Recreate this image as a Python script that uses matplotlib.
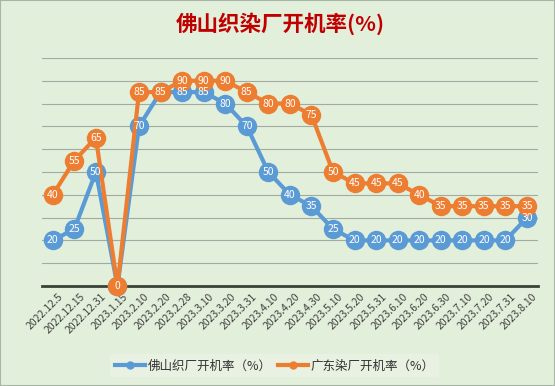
import matplotlib.pyplot as plt
from matplotlib.lines import Line2D
from matplotlib.patches import Rectangle
from matplotlib.transforms import ScaledTranslation

plt.rcParams['font.family'] = ['Noto Sans CJK SC', 'DejaVu Sans']

dates = ['2022.12.5', '2022.12.15', '2022.12.31', '2023.1.15', '2023.2.10',
         '2023.2.20', '2023.2.28', '2023.3.10', '2023.3.20', '2023.3.31',
         '2023.4.10', '2023.4.20', '2023.4.30', '2023.5.10', '2023.5.20',
         '2023.5.31', '2023.6.10', '2023.6.20', '2023.6.30', '2023.7.10',
         '2023.7.20', '2023.7.31', '2023.8.10']
foshan = [20, 25, 50, 0, 70, 85, 85, 85, 80, 70, 50, 40, 35, 25, 20,
          20, 20, 20, 20, 20, 20, 20, 30]
guangdong = [40, 55, 65, 0, 85, 85, 90, 90, 90, 85, 80, 80, 75, 50, 45,
             45, 45, 40, 35, 35, 35, 35, 35]
series_names = ['佛山织厂开机率（%）', '广东染厂开机率（%）']
title = '佛山织染厂开机率(%)'

BLUE = '#5B9BD5'
ORANGE = '#ED7D31'
BG = '#E2EFDA'

fig = plt.figure(figsize=(5.55, 3.86), dpi=100, facecolor=BG)
fig.patches.append(Rectangle((0, 0), 1, 1, transform=fig.transFigure,
                             fill=False, edgecolor='#A9B4A9', linewidth=1.5))
ax = fig.add_axes([0.0757, 0.259, 0.8933, 0.591])
ax.set_facecolor(BG)

x = list(range(len(dates)))
for vals, color, z in [(foshan, BLUE, 3), (guangdong, ORANGE, 4)]:
    ax.plot(x, vals, color=color, linewidth=3, marker='o', markersize=14,
            markeredgewidth=0, zorder=z, clip_on=False)

# labels sit above every series, like Excel data labels;
# where both series share a value only one label shows
for xi, (b, o) in enumerate(zip(foshan, guangdong)):
    if b != o:
        ax.text(xi, b, str(b), color='white', fontsize=7.5, ha='center',
                va='center', zorder=10)
    ax.text(xi, o, str(o), color='white', fontsize=7.5, ha='center',
            va='center', zorder=10)

ax.set_xlim(-0.5, len(dates) - 0.5)
ax.set_ylim(0, 100)
ax.set_yticks(range(0, 101, 10))
ax.yaxis.grid(True, color='#A3AAA3', linewidth=0.8)
ax.set_axisbelow(True)
ax.tick_params(axis='y', left=False, labelleft=False)
ax.tick_params(axis='x', length=0, pad=4, labelsize=7.5, labelcolor='#404040')
ax.set_xticks(x)
ax.set_xticklabels(dates, rotation=45, ha='right', rotation_mode='anchor')
shift = ScaledTranslation(5 / 100, 0, fig.dpi_scale_trans)
for lbl in ax.get_xticklabels():
    lbl.set_transform(lbl.get_transform() + shift)
for s in ['top', 'right', 'left']:
    ax.spines[s].set_visible(False)
ax.spines['bottom'].set_color('#3A4237')
ax.spines['bottom'].set_linewidth(2)
ax.spines['bottom'].set_zorder(2)

fig.text(0.505, 0.938, title, color='#C00000', fontsize=15.5,
         fontweight='bold', ha='center', va='center')

handles = [Line2D([], [], color=BLUE, linewidth=3, marker='o', markersize=5),
           Line2D([], [], color=ORANGE, linewidth=3, marker='o', markersize=5)]
leg = fig.legend(handles, series_names, loc='center', ncol=2,
                 bbox_to_anchor=(0.495, 0.052), frameon=True, fontsize=9,
                 handlelength=2.4, columnspacing=0.5, handletextpad=0.2,
                 borderpad=0.4)
leg.get_frame().set_facecolor('#EAF2E5')
leg.get_frame().set_edgecolor('none')
for t in leg.get_texts():
    t.set_color('#333333')

fig.savefig('out.png', dpi=100, facecolor=BG)
